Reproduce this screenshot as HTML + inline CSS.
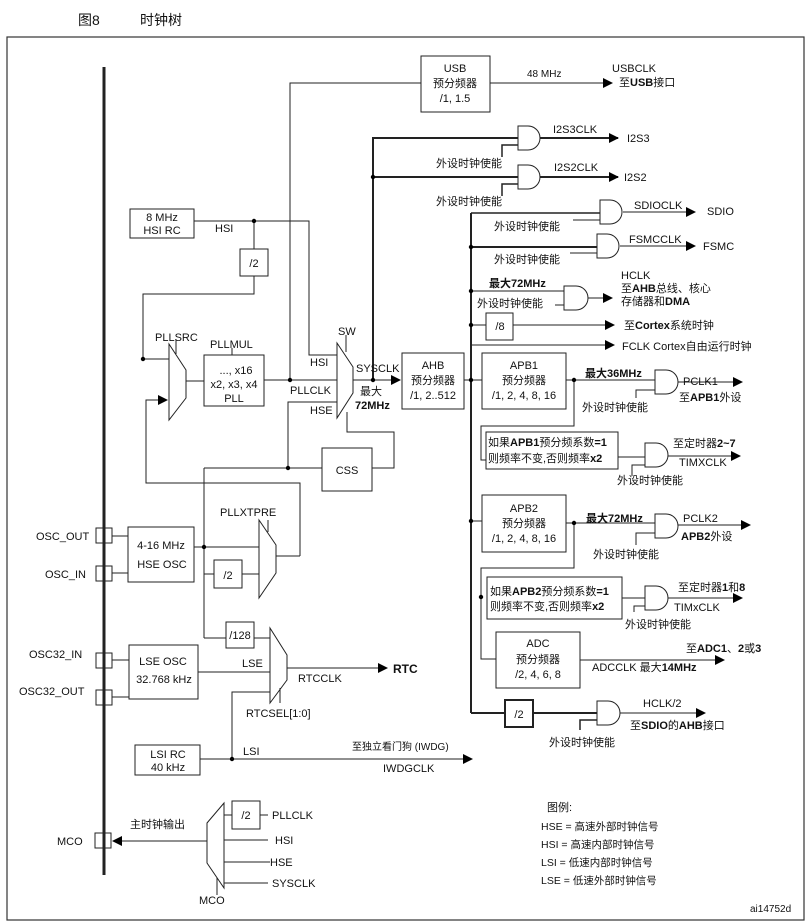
<!DOCTYPE html>
<html><head><meta charset="utf-8"><style>
html,body{margin:0;padding:0;background:#fff}
svg{display:block}
text{font-family:"Liberation Sans","Noto Sans CJK SC",sans-serif;font-size:11px;fill:#111}
.b{font-weight:bold}
.c{text-anchor:middle}
</style></head><body>
<svg width="811" height="924" viewBox="0 0 811 924" xmlns="http://www.w3.org/2000/svg">
<defs><marker id="a" markerWidth="10" markerHeight="10" refX="9" refY="5" orient="auto" markerUnits="userSpaceOnUse"><path d="M0,0 L10,5 L0,10 z" fill="#000"/></marker></defs>
<text x="78" y="25" style="font-size:14px">图8</text><text x="140" y="25" style="font-size:14px">时钟树</text>
<rect x="7" y="37" width="797" height="883" fill="none" stroke="#333" stroke-width="1.2"/>
<g fill="none" stroke="#222" stroke-width="1">
<line x1="104" y1="67" x2="104" y2="875" stroke-width="3"/>
<!-- USB -->
<rect x="421" y="56" width="69" height="56"/>
<polyline points="290,380 290,83 421,83"/>
<line x1="490" y1="83" x2="612" y2="83" marker-end="url(#a)"/>
<!-- SYSCLK bold branch -->
<polyline points="373,380 373,138 518,138" stroke-width="2"/>
<line x1="373" y1="177" x2="518" y2="177" stroke-width="2"/>
<line x1="540" y1="138" x2="618" y2="138" stroke-width="2" marker-end="url(#a)"/>
<line x1="540" y1="177" x2="618" y2="177" stroke-width="2" marker-end="url(#a)"/>
<polyline points="502,157 502,145 518,145" stroke-width="1.5"/>
<polyline points="502,196 502,184 518,184" stroke-width="1.5"/>
<!-- AHB bus -->
<line x1="471" y1="213" x2="471" y2="713" stroke-width="2"/>
<line x1="471" y1="213" x2="600" y2="213" stroke-width="1.5"/>
<line x1="573" y1="220" x2="600" y2="220"/>
<line x1="623" y1="212" x2="695" y2="212" marker-end="url(#a)"/>
<line x1="471" y1="247" x2="597" y2="247" stroke-width="2"/>
<line x1="570" y1="253" x2="597" y2="253"/>
<line x1="620" y1="246" x2="695" y2="246" marker-end="url(#a)"/>
<line x1="471" y1="291" x2="564" y2="291"/>
<line x1="555" y1="305" x2="564" y2="305"/>
<line x1="588" y1="298" x2="612" y2="298" marker-end="url(#a)"/>
<rect x="486" y="313" width="27" height="27"/>
<line x1="471" y1="325" x2="486" y2="325"/>
<line x1="513" y1="325" x2="614" y2="325" marker-end="url(#a)"/>
<line x1="471" y1="345" x2="614" y2="345" marker-end="url(#a)"/>
<!-- AHB box -->
<rect x="402" y="353" width="62" height="56"/>
<line x1="464" y1="380" x2="482" y2="380"/>
<!-- APB1 -->
<rect x="482" y="353" width="84" height="56"/>
<line x1="566" y1="380" x2="655" y2="380"/>
<polyline points="636,398 636,390 655,390"/>
<line x1="678" y1="382" x2="742" y2="382" marker-end="url(#a)"/>
<polyline points="574,380 574,426 481,426 481,460 486,460"/>
<rect x="486" y="432" width="132" height="37"/>
<line x1="618" y1="457" x2="645" y2="457"/>
<polyline points="632,476 632,465 645,465"/>
<line x1="668" y1="456" x2="740" y2="456" marker-end="url(#a)"/>
<!-- APB2 -->
<rect x="482" y="495" width="84" height="57"/>
<line x1="471" y1="521" x2="482" y2="521"/>
<line x1="566" y1="523" x2="655" y2="523"/>
<polyline points="636,545 636,533 655,533"/>
<line x1="678" y1="525" x2="750" y2="525" marker-end="url(#a)"/>
<polyline points="574,523 574,568 481,568 481,659 496,659"/>
<rect x="487" y="577" width="135" height="42"/>
<line x1="622" y1="598" x2="645" y2="598"/>
<polyline points="634,612 634,606 645,606"/>
<line x1="668" y1="598" x2="742" y2="598" marker-end="url(#a)"/>
<rect x="496" y="632" width="84" height="56"/>
<line x1="580" y1="660" x2="724" y2="660" marker-end="url(#a)"/>
<!-- /2 HCLK -->
<line x1="471" y1="713" x2="505" y2="713" stroke-width="2"/>
<rect x="505" y="700" width="28" height="27" stroke-width="2"/>
<line x1="533" y1="713" x2="597" y2="713" stroke-width="2"/>
<polyline points="580,730 580,720 597,720" stroke-width="1.5"/>
<line x1="620" y1="713" x2="705" y2="713" marker-end="url(#a)"/>
<!-- gates -->
<path d="M518 126h10a12 12 0 0 1 0 24h-10z"/>
<path d="M518 165h10a12 12 0 0 1 0 24h-10z"/>
<path d="M600 200h10a12 12 0 0 1 0 24h-10z"/>
<path d="M597 234h10a12 12 0 0 1 0 24h-10z"/>
<path d="M564 286h12a12 12 0 0 1 0 24h-12z"/>
<path d="M655 370h11a12 12 0 0 1 0 24h-11z"/>
<path d="M645 443h11a12 12 0 0 1 0 24h-11z"/>
<path d="M655 514h11a12 12 0 0 1 0 24h-11z"/>
<path d="M645 586h11a12 12 0 0 1 0 24h-11z"/>
<path d="M597 701h11a12 12 0 0 1 0 24h-11z"/>
<!-- HSI -->
<rect x="130" y="209" width="64" height="29"/>
<polyline points="194,221 309,221 309,355 337,355"/>
<line x1="254" y1="221" x2="254" y2="249"/>
<rect x="240" y="249" width="28" height="27"/>
<polyline points="254,276 254,294 143,294 143,359 169,359"/>
<!-- PLLSRC mux -->
<polygon points="169,344 186,370 186,398 169,420"/>
<line x1="176" y1="340" x2="176" y2="354"/>
<polyline points="300,556 300,483 146,483 146,400 167,400" marker-end="url(#a)"/>
<line x1="186" y1="381" x2="204" y2="381"/>
<rect x="204" y="355" width="60" height="51"/>
<line x1="232" y1="348" x2="232" y2="355"/>
<line x1="264" y1="380" x2="337" y2="380"/>
<!-- SW mux -->
<polygon points="337,343 353,367 353,393 337,418"/>
<line x1="346" y1="335" x2="346" y2="352"/>
<line x1="353" y1="380" x2="400" y2="380" marker-end="url(#a)"/>
<polyline points="288,468 288,402 337,402"/>
<line x1="204" y1="468" x2="322" y2="468"/>
<rect x="322" y="448" width="50" height="43"/>
<polyline points="372,468 394,468 394,432 347,432 347,412"/>
<!-- HSE OSC -->
<line x1="204" y1="468" x2="204" y2="638"/>
<rect x="96" y="528" width="16" height="15"/>
<rect x="96" y="566" width="16" height="15"/>
<line x1="112" y1="536" x2="128" y2="536"/><line x1="112" y1="573" x2="128" y2="573"/>
<rect x="128" y="527" width="66" height="55"/>
<line x1="194" y1="547" x2="259" y2="547"/>
<line x1="204" y1="574" x2="214" y2="574"/>
<rect x="214" y="560" width="28" height="28"/>
<line x1="242" y1="574" x2="259" y2="574"/>
<polygon points="259,520 276,545 276,573 259,598"/>
<line x1="268" y1="520" x2="268" y2="532"/>
<line x1="276" y1="556" x2="300" y2="556"/>
<!-- RTC -->
<line x1="204" y1="638" x2="226" y2="638"/>
<rect x="226" y="622" width="28" height="26"/>
<line x1="254" y1="638" x2="270" y2="638"/>
<polygon points="270,628 287,655 287,680 270,703"/>
<line x1="280" y1="688" x2="280" y2="703"/>
<line x1="287" y1="668" x2="387" y2="668" marker-end="url(#a)"/>
<rect x="96" y="653" width="16" height="15"/>
<rect x="96" y="690" width="16" height="15"/>
<line x1="112" y1="660" x2="129" y2="660"/><line x1="112" y1="697" x2="129" y2="697"/>
<rect x="129" y="645" width="69" height="54"/>
<line x1="198" y1="672" x2="270" y2="672"/>
<polyline points="232,759 232,692 270,692"/>
<rect x="135" y="745" width="65" height="30"/>
<line x1="200" y1="759" x2="472" y2="759" marker-end="url(#a)"/>
<!-- MCO -->
<rect x="95" y="833" width="16" height="15"/>
<line x1="207" y1="841" x2="113" y2="841" marker-end="url(#a)"/>
<polygon points="207,823 224,803 224,888 207,863"/>
<line x1="217" y1="878" x2="217" y2="895"/>
<line x1="224" y1="815" x2="232" y2="815"/>
<rect x="232" y="801" width="28" height="28"/>
<line x1="260" y1="815" x2="268" y2="815"/>
<line x1="224" y1="840" x2="268" y2="840"/>
<line x1="224" y1="862" x2="270" y2="862"/>
<line x1="224" y1="883" x2="268" y2="883"/>
</g>
<g fill="#000">
<circle cx="373" cy="177" r="2.2"/><circle cx="373" cy="380" r="2.2"/>
<circle cx="471" cy="247" r="2.2"/><circle cx="471" cy="291" r="2.2"/><circle cx="471" cy="325" r="2.2"/>
<circle cx="471" cy="380" r="2.2"/><circle cx="471" cy="521" r="2.2"/>
<circle cx="574" cy="380" r="2.2"/><circle cx="574" cy="523" r="2.2"/><circle cx="481" cy="597" r="2.2"/>
<circle cx="254" cy="221" r="2.2"/><circle cx="143" cy="359" r="2.2"/><circle cx="290" cy="380" r="2.2"/>
<circle cx="288" cy="468" r="2.2"/><circle cx="204" cy="547" r="2.2"/><circle cx="232" cy="759" r="2.2"/>
</g>
<!-- texts -->
<text class="c" x="455" y="72">USB</text><text class="c" x="455" y="87">预分频器</text><text class="c" x="455" y="102">/1, 1.5</text>
<text x="527" y="77" style="font-size:10px">48 MHz</text>
<text x="612" y="72">USBCLK</text><text x="619" y="86">至<tspan class="b">USB</tspan>接口</text>
<text x="553" y="133">I2S3CLK</text><text x="627" y="142">I2S3</text>
<text x="554" y="171">I2S2CLK</text><text x="624" y="181">I2S2</text>
<text x="436" y="167">外设时钟使能</text><text x="436" y="205">外设时钟使能</text>
<text x="634" y="209">SDIOCLK</text><text x="707" y="215">SDIO</text>
<text x="494" y="230">外设时钟使能</text>
<text x="629" y="243">FSMCCLK</text><text x="703" y="250">FSMC</text>
<text x="494" y="263">外设时钟使能</text>
<text class="b" x="489" y="287">最大72MHz</text>
<text x="477" y="307">外设时钟使能</text>
<text x="621" y="279">HCLK</text><text x="621" y="292">至<tspan class="b">AHB</tspan>总线、核心</text><text x="621" y="305">存储器和<tspan class="b">DMA</tspan></text>
<text class="c" x="500" y="330">/8</text>
<text x="624" y="329">至<tspan class="b">Cortex</tspan>系统时钟</text>
<text x="622" y="350">FCLK Cortex自由运行时钟</text>
<text class="c" x="433" y="369">AHB</text><text class="c" x="433" y="384">预分频器</text><text class="c" x="433" y="399">/1, 2..512</text>
<text class="c" x="524" y="369">APB1</text><text class="c" x="524" y="384">预分频器</text><text class="c" x="524" y="399">/1, 2, 4, 8, 16</text>
<text class="b" x="585" y="377">最大36MHz</text>
<text x="683" y="385">PCLK1</text><text x="679" y="401">至<tspan class="b">APB1</tspan>外设</text>
<text x="582" y="411">外设时钟使能</text>
<text x="488" y="446">如果<tspan class="b">APB1</tspan>预分频系数<tspan class="b">=1</tspan></text>
<text x="488" y="462">则频率不变,否则频率<tspan class="b">x2</tspan></text>
<text x="673" y="447">至定时器<tspan class="b">2~7</tspan></text><text x="679" y="466">TIMXCLK</text>
<text x="617" y="484">外设时钟使能</text>
<text class="c" x="524" y="512">APB2</text><text class="c" x="524" y="527">预分频器</text><text class="c" x="524" y="542">/1, 2, 4, 8, 16</text>
<text class="b" x="586" y="522">最大72MHz</text>
<text x="683" y="522">PCLK2</text><text class="b" x="681" y="540">APB2<tspan style="font-weight:normal">外设</tspan></text>
<text x="593" y="558">外设时钟使能</text>
<text x="490" y="595">如果<tspan class="b">APB2</tspan>预分频系数<tspan class="b">=1</tspan></text>
<text x="490" y="610">则频率不变,否则频率<tspan class="b">x2</tspan></text>
<text x="678" y="591">至定时器<tspan class="b">1</tspan>和<tspan class="b">8</tspan></text><text x="674" y="611">TIMxCLK</text>
<text x="625" y="628">外设时钟使能</text>
<text class="c" x="538" y="647">ADC</text><text class="c" x="538" y="663">预分频器</text><text class="c" x="538" y="678">/2, 4, 6, 8</text>
<text x="686" y="652">至<tspan class="b">ADC1</tspan>、<tspan class="b">2</tspan>或<tspan class="b">3</tspan></text>
<text x="592" y="671">ADCCLK 最大<tspan class="b">14MHz</tspan></text>
<text class="c" x="519" y="718">/2</text>
<text x="643" y="707">HCLK/2</text><text x="630" y="729">至<tspan class="b">SDIO</tspan>的<tspan class="b">AHB</tspan>接口</text>
<text x="549" y="746">外设时钟使能</text>
<text class="c" x="162" y="221">8 MHz</text><text class="c" x="162" y="234">HSI RC</text>
<text x="215" y="232">HSI</text>
<text class="c" x="254" y="267">/2</text>
<text x="155" y="341">PLLSRC</text><text x="210" y="348">PLLMUL</text>
<text class="c" x="236" y="374">..., x16</text><text class="c" x="234" y="388">x2, x3, x4</text><text class="c" x="234" y="402">PLL</text>
<text x="338" y="335">SW</text>
<text x="310" y="366">HSI</text><text x="290" y="394">PLLCLK</text><text x="310" y="414">HSE</text>
<text x="356" y="372">SYSCLK</text><text x="360" y="395">最大</text><text class="b" x="355" y="409">72MHz</text>
<text class="c" x="347" y="474">CSS</text>
<text x="220" y="516">PLLXTPRE</text>
<text x="36" y="540">OSC_OUT</text><text x="45" y="578">OSC_IN</text>
<text class="c" x="161" y="549">4-16 MHz</text><text class="c" x="162" y="568">HSE OSC</text>
<text class="c" x="228" y="579">/2</text>
<text class="c" x="240" y="639">/128</text>
<text x="29" y="658">OSC32_IN</text><text x="19" y="695">OSC32_OUT</text>
<text class="c" x="163" y="665">LSE OSC</text><text class="c" x="164" y="683">32.768 kHz</text>
<text x="242" y="667">LSE</text>
<text x="298" y="682">RTCCLK</text><text class="b" x="393" y="673" style="font-size:12px">RTC</text>
<text x="246" y="717">RTCSEL[1:0]</text>
<text class="c" x="168" y="758">LSI RC</text><text class="c" x="168" y="771">40 kHz</text>
<text x="243" y="755">LSI</text>
<text x="352" y="750" style="font-size:10px">至独立看门狗 (IWDG)</text><text x="383" y="772">IWDGCLK</text>
<text x="57" y="845">MCO</text><text x="130" y="828">主时钟输出</text>
<text class="c" x="246" y="819">/2</text>
<text x="272" y="819">PLLCLK</text><text x="275" y="844">HSI</text><text x="270" y="866">HSE</text><text x="272" y="887">SYSCLK</text>
<text x="199" y="904">MCO</text>
<text x="547" y="811">图例:</text>
<text x="541" y="830" style="font-size:10.5px">HSE = 高速外部时钟信号</text>
<text x="541" y="848" style="font-size:10.5px">HSI = 高速内部时钟信号</text>
<text x="541" y="866" style="font-size:10.5px">LSI = 低速内部时钟信号</text>
<text x="541" y="884" style="font-size:10.5px">LSE = 低速外部时钟信号</text>
<text x="750" y="912" style="font-size:10px">ai14752d</text>
</svg>
</body></html>
